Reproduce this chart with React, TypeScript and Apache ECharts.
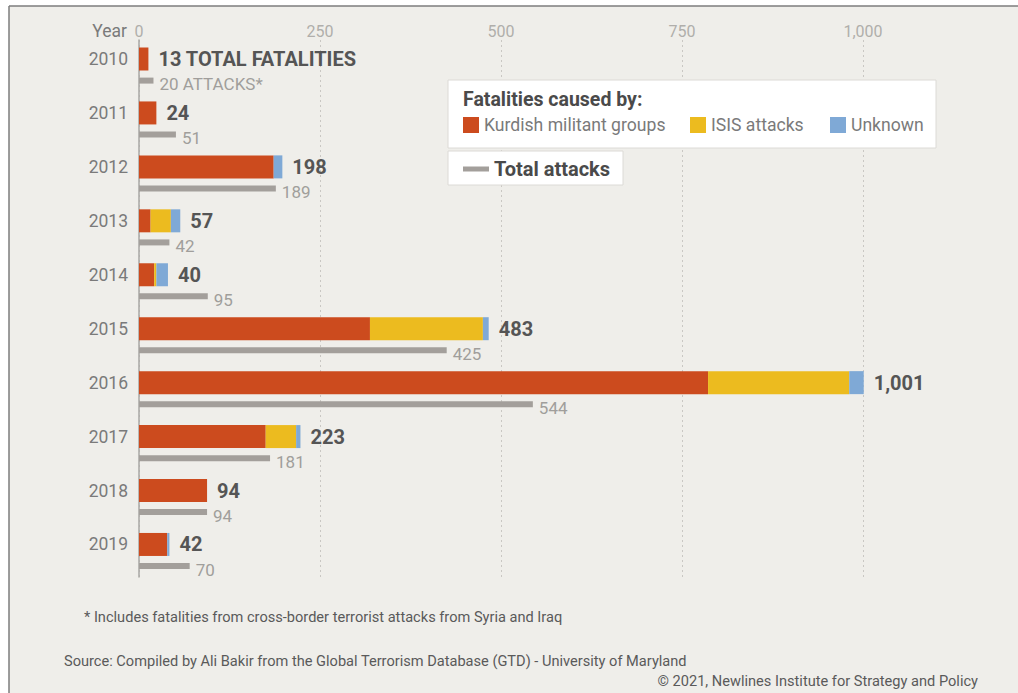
import React, { useEffect, useRef } from "react";
import * as echarts from "echarts";

const years = ["2010", "2011", "2012", "2013", "2014", "2015", "2016", "2017", "2018", "2019"];
const kurdish = [13, 24, 186, 16, 21, 319, 786, 175, 94, 39];
const isis = [0, 0, 0, 28, 3, 156, 195, 42, 0, 0];
const unknown = [0, 0, 12, 13, 16, 8, 20, 6, 0, 3];
const totalFatalities = [13, 24, 198, 57, 40, 483, 1001, 223, 94, 42];
const totalAttacks = [20, 51, 189, 42, 95, 425, 544, 181, 94, 70];
const axisMax = 1000;
const axisInterval = 250;

const RED = "#cc4b1e";
const YELLOW = "#ecbb1f";
const BLUE = "#7fa9d6";
const GRAY = "#a39f9b";
const FONT = "Roboto, 'Noto Sans', sans-serif";

const fmt = (v: number) => v.toLocaleString("en-US");

export default function App() {
  const ref = useRef<HTMLDivElement>(null);
  useEffect(() => {
    document.body.style.margin = "0";
    const chart = echarts.init(ref.current!, null, { renderer: "svg" });
    const L = 139;
    const R = 1018 - 863;
    const band = 53.94;
    const h = band * 10;
    const top1 = 59 - band / 2;
    const top2 = top1 + 21.6;
    const hiddenX = (grid: number) => ({
      type: "value",
      gridIndex: grid,
      min: 0,
      max: axisMax,
      interval: axisInterval,
      show: false,
    });
    const legendText = { color: "#7a7a7a", fontSize: 17.6, fontFamily: FONT };
    const option: any = {
      animation: false,
      backgroundColor: "#efeeea",
      textStyle: { fontFamily: FONT },
      grid: [
        { left: L, right: R, top: 40, height: 537 },
        { left: L, right: R, top: top1, height: h },
        { left: L, right: R, top: top2, height: h },
      ],
      xAxis: [
        {
          type: "value",
          gridIndex: 0,
          position: "top",
          min: 0,
          max: axisMax,
          interval: axisInterval,
          axisLine: { show: false },
          axisTick: { show: false },
          axisLabel: { color: "#b0aeab", fontSize: 16, margin: 1, formatter: (v: number) => fmt(v) },
          splitLine: { show: true, lineStyle: { type: [2, 3], color: "#c9c7c3", width: 1 } },
        },
        hiddenX(1),
        hiddenX(2),
      ],
      yAxis: [
        {
          type: "category",
          gridIndex: 0,
          data: years,
          axisLine: { show: true, lineStyle: { color: "#a9a7a4", width: 1.5 } },
          axisTick: { show: false },
          axisLabel: { show: false },
          splitLine: { show: false },
        },
        {
          type: "category",
          gridIndex: 1,
          data: years,
          inverse: true,
          axisLine: { show: false },
          axisTick: { show: false },
          axisLabel: { color: "#7a7a7a", fontSize: 17.5, margin: 11 },
        },
        {
          type: "category",
          gridIndex: 2,
          data: years,
          inverse: true,
          show: false,
        },
      ],
      legend: [
        {
          data: ["Kurdish militant groups"],
          left: 463,
          top: 116,
          padding: 0,
          icon: "rect",
          itemWidth: 16,
          itemHeight: 16,
          selectedMode: false,
          z: 100,
          textStyle: legendText,
        },
        {
          data: ["ISIS attacks"],
          left: 690,
          top: 116,
          padding: 0,
          icon: "rect",
          itemWidth: 16,
          itemHeight: 16,
          selectedMode: false,
          z: 100,
          textStyle: legendText,
        },
        {
          data: ["Unknown"],
          left: 830,
          top: 116,
          padding: 0,
          icon: "rect",
          itemWidth: 16,
          itemHeight: 16,
          selectedMode: false,
          z: 100,
          textStyle: legendText,
        },
        {
          data: ["Total attacks"],
          left: 463,
          top: 159,
          padding: 0,
          icon: "rect",
          itemWidth: 26,
          itemHeight: 5,
          itemGap: 0,
          selectedMode: false,
          z: 100,
          textStyle: { color: "#4a4a4a", fontSize: 20, fontWeight: "bold", fontFamily: FONT },
        },
      ],
      series: [
        {
          name: "Kurdish militant groups",
          type: "bar",
          stack: "fat",
          xAxisIndex: 1,
          yAxisIndex: 1,
          barWidth: 23,
          barGap: "-100%",
          itemStyle: { color: RED },
          data: kurdish,
        },
        {
          name: "ISIS attacks",
          type: "bar",
          stack: "fat",
          xAxisIndex: 1,
          yAxisIndex: 1,
          barWidth: 23,
          barGap: "-100%",
          itemStyle: { color: YELLOW },
          data: isis,
        },
        {
          name: "Unknown",
          type: "bar",
          stack: "fat",
          xAxisIndex: 1,
          yAxisIndex: 1,
          barWidth: 23,
          barGap: "-100%",
          clip: false,
          itemStyle: { color: BLUE },
          data: unknown,
        },
        {
          name: "Total fatalities",
          type: "bar",
          xAxisIndex: 1,
          yAxisIndex: 1,
          barWidth: 23,
          barGap: "-100%",
          clip: false,
          silent: true,
          z: 1,
          itemStyle: { color: "rgba(0,0,0,0)" },
          label: {
            show: true,
            position: "right",
            distance: 10,
            color: "#555555",
            fontSize: 20,
            fontWeight: "bold",
            fontFamily: FONT,
            formatter: (p: any) =>
              p.dataIndex === 0 ? `${fmt(p.value)} TOTAL FATALITIES` : fmt(p.value),
          },
          data: totalFatalities,
        },
        {
          name: "Total attacks",
          type: "bar",
          xAxisIndex: 2,
          yAxisIndex: 2,
          barWidth: 6,
          itemStyle: { color: GRAY },
          label: {
            show: true,
            position: "right",
            distance: 6,
            offset: [0, 3.5],
            color: "#a09e9b",
            fontSize: 17,
            fontFamily: FONT,
            formatter: (p: any) =>
              p.dataIndex === 0 ? `${fmt(p.value)} ATTACKS*` : fmt(p.value),
          },
          data: totalAttacks,
        },
      ],
      graphic: [
        { type: "rect", shape: { x: 0, y: 0, width: 1018, height: 6 }, style: { fill: "#ffffff" }, z: 50 },
        { type: "rect", shape: { x: 0, y: 0, width: 9, height: 693 }, style: { fill: "#ffffff" }, z: 50 },
        { type: "line", shape: { x1: 9, y1: 6, x2: 1018, y2: 6 }, style: { stroke: "#7d7d7d", lineWidth: 1.5 }, z: 51 },
        { type: "line", shape: { x1: 9, y1: 6, x2: 9, y2: 693 }, style: { stroke: "#7d7d7d", lineWidth: 1.5 }, z: 51 },
        {
          type: "text",
          x: 127,
          y: 31,
          z: 50,
          style: { text: "Year", fill: "#7a7a7a", fontSize: 17.5, fontFamily: FONT, textAlign: "right", textVerticalAlign: "middle" },
        },
        {
          type: "rect",
          z: 50,
          shape: { x: 448, y: 80, width: 488, height: 68 },
          style: { fill: "#ffffff", stroke: "#dcdad6", lineWidth: 1 },
        },
        {
          type: "rect",
          z: 50,
          shape: { x: 448, y: 151, width: 175, height: 34 },
          style: { fill: "#ffffff", stroke: "#dcdad6", lineWidth: 1 },
        },
        {
          type: "text",
          x: 463,
          y: 99,
          z: 60,
          style: { text: "Fatalities caused by:", fill: "#4a4a4a", fontSize: 19.5, fontWeight: "bold", fontFamily: FONT, textVerticalAlign: "middle" },
        },
        {
          type: "text",
          x: 84,
          y: 617,
          z: 50,
          style: { text: "* Includes fatalities from cross-border terrorist attacks from Syria and Iraq", fill: "#5a5a5a", fontSize: 14.6, fontFamily: FONT, textVerticalAlign: "middle" },
        },
        {
          type: "text",
          x: 64,
          y: 661,
          z: 50,
          style: { text: "Source: Compiled by Ali Bakir from the Global Terrorism Database (GTD) - University of Maryland", fill: "#5a5a5a", fontSize: 14.6, fontFamily: FONT, textVerticalAlign: "middle" },
        },
        {
          type: "text",
          x: 978,
          y: 681,
          z: 50,
          style: { text: "© 2021, Newlines Institute for Strategy and Policy", fill: "#5a5a5a", fontSize: 14.6, fontFamily: FONT, textAlign: "right", textVerticalAlign: "middle" },
        },
      ],
    };
    chart.setOption(option);
    return () => chart.dispose();
  }, []);
  return <div ref={ref} style={{ width: 1018, height: 693 }} />;
}
